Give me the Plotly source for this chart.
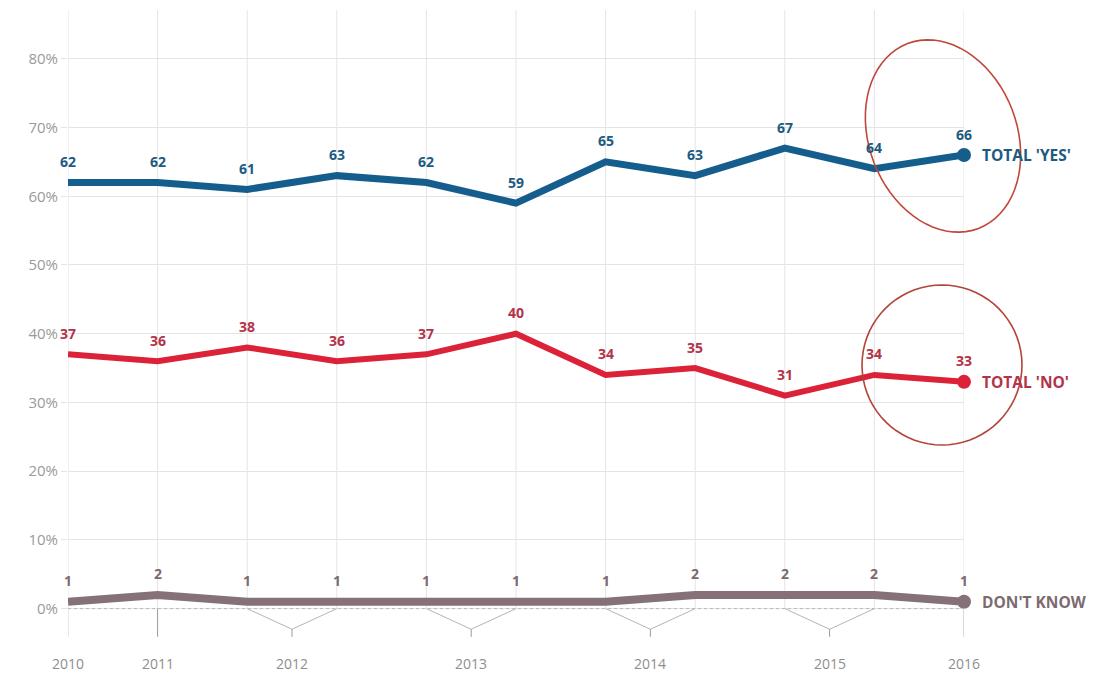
import numpy as np
import plotly.graph_objects as go

# ---- data ----
points = list(range(11))
yes_vals = [62, 62, 61, 63, 62, 59, 65, 63, 67, 64, 66]
no_vals = [37, 36, 38, 36, 37, 40, 34, 35, 31, 34, 33]
dk_vals = [1, 2, 1, 1, 1, 1, 1, 2, 2, 2, 1]
year_labels = ["2010", "2011", "2012", "2013", "2014", "2015", "2016"]
year_pos = [0, 1, 2.5, 4.5, 6.5, 8.5, 10]
bracket_pairs = [(2, 3), (4, 5), (6, 7), (8, 9)]
y_ticks = [0, 10, 20, 30, 40, 50, 60, 70, 80]

series = [
    dict(name="TOTAL 'YES'", vals=yes_vals, line="#155d8d", lab="#1d5a82", width=7),
    dict(name="TOTAL 'NO'", vals=no_vals, line="#dc2239", lab="#b3334a", width=6),
    dict(name="DON'T KNOW", vals=dk_vals, line="#86717a", lab="#7b6b70", width=8),
]

OFF = 8  # page body margin
W, H = 1104 - OFF, 677 - OFF
ML, MR, MT, MB = 68 - OFF, 140, 10 - OFF, 34
XR = [0, 10]
YR = [-5, 87.1]

def page_to_paper(px, py):
    fx, fy = px - OFF, py - OFF
    x = (fx - ML) / (W - ML - MR)
    y = 1 - (fy - MT) / (H - MT - MB)
    return x, y

fig = go.Figure()
shapes = []
annotations = []

# vertical gridlines at each survey point
for i in points:
    shapes.append(dict(type="line", xref="x", yref="y", x0=i, x1=i, y0=0, y1=YR[1],
                       line=dict(color="#e4e4e4", width=1), layer="below"))
# ticks below axis for 2010, 2011, 2016
for i, col in [(0, "#d0d0d0"), (1, "#9a9a9a"), (10, "#b0b0b0")]:
    shapes.append(dict(type="line", xref="x", yref="y", x0=i, x1=i, y0=0, y1=-4.1,
                       line=dict(color=col, width=1)))
# brackets
for a, b in bracket_pairs:
    m = (a + b) / 2
    shapes.append(dict(type="path", xref="x", yref="y",
                       path=f"M {a},0 L {m},-3.0 L {b},0",
                       line=dict(color="#b5b5b5", width=1)))
    shapes.append(dict(type="line", xref="x", yref="y", x0=m, x1=m, y0=-3.0, y1=-4.1,
                       line=dict(color="#9a9a9a", width=1)))
# dotted zero line
shapes.append(dict(type="line", xref="x", yref="y", x0=0, x1=10, y0=0, y1=0,
                   line=dict(color="#b8b8b8", width=1, dash="dot")))

for s in series:
    fig.add_trace(go.Scatter(x=points, y=s["vals"], mode="lines",
                             line=dict(color=s["line"], width=s["width"]),
                             hoverinfo="skip", showlegend=False, cliponaxis=False))
    fig.add_trace(go.Scatter(x=[points[-1]], y=[s["vals"][-1]], mode="markers",
                             marker=dict(color=s["line"], size=14),
                             hoverinfo="skip", showlegend=False, cliponaxis=False))
    for x, v in zip(points, s["vals"]):
        annotations.append(dict(x=x, y=v, xref="x", yref="y", text=str(v), showarrow=False,
                                yshift=21, font=dict(family="Open Sans", size=14,
                                                     color=s["lab"], weight="bold")))
    annotations.append(dict(x=points[-1], y=s["vals"][-1], xref="x", yref="y", text=s["name"],
                            showarrow=False, xanchor="left", xshift=16,
                            font=dict(family="Open Sans", size=15.5, color=s["lab"],
                                      weight="bold")))

# year labels
for p, t in zip(year_pos, year_labels):
    annotations.append(dict(x=p, y=0, xref="x", yref="paper", text=t, showarrow=False,
                            yanchor="top", yshift=-9,
                            font=dict(family="Open Sans", size=14, color="#8e8e8e")))

# highlight ellipses (page-pixel geometry converted to paper units)
def ellipse_path(cx, cy, a, b, tilt_deg):
    t = np.linspace(0, 2 * np.pi, 73)
    th = np.radians(tilt_deg)
    ux, uy = np.sin(th), np.cos(th)
    vx, vy = uy, -ux
    pts = []
    for tt in t:
        px = cx + a * np.cos(tt) * ux + b * np.sin(tt) * vx
        py = cy + a * np.cos(tt) * uy + b * np.sin(tt) * vy
        pts.append(page_to_paper(px, py))
    return "M " + " L ".join(f"{x:.5f},{y:.5f}" for x, y in pts) + " Z"

shapes.append(dict(type="path", xref="paper", yref="paper",
                   path=ellipse_path(943, 136, 99, 74, 21),
                   line=dict(color="#c0473a", width=1.6)))
shapes.append(dict(type="path", xref="paper", yref="paper",
                   path=ellipse_path(942, 365, 80, 80, 0),
                   line=dict(color="#b2443a", width=1.6)))

fig.update_layout(
    width=W, height=H,
    margin=dict(l=ML, r=MR, t=MT, b=MB),
    paper_bgcolor="white", plot_bgcolor="white",
    shapes=shapes, annotations=annotations,
    xaxis=dict(range=XR, showgrid=False, zeroline=False, showticklabels=False,
               ticks="", showline=False, fixedrange=True),
    yaxis=dict(range=YR, tickvals=y_ticks, ticktext=[f"{v}%" for v in y_ticks],
               showgrid=True, gridcolor="#e4e4e4", gridwidth=1, zeroline=False,
               ticks="outside", ticklen=6, tickcolor="#e4e4e4", showline=False,
               tickfont=dict(family="Open Sans", size=15, color="#9a9a9a"),
               fixedrange=True),
)

fig.write_html("out.html")
